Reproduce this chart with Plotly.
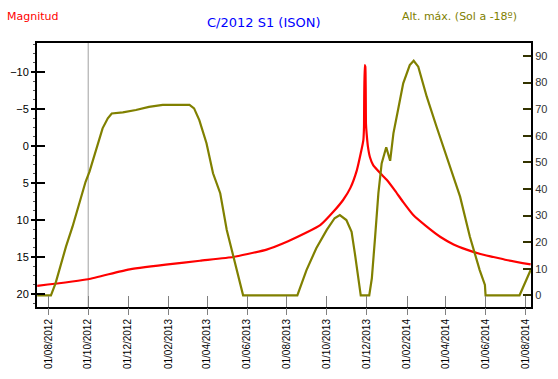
import plotly.graph_objects as go

# ---------------- data ----------------
mag_fechas = [
    "2012-07-15", "2012-10-01", "2012-12-01", "2013-01-31", "2013-03-21",
    "2013-05-11", "2013-06-02", "2013-07-01", "2013-08-02", "2013-08-31",
    "2013-09-21", "2013-10-11", "2013-10-26", "2013-11-06", "2013-11-16",
    "2013-11-22", "2013-11-26", "2013-11-27", "2013-11-28", "2013-11-29",
    "2013-11-30", "2013-12-01", "2013-12-03", "2013-12-06", "2013-12-11",
    "2013-12-22", "2014-01-01", "2014-01-14", "2014-01-26", "2014-02-10",
    "2014-03-03", "2014-03-24", "2014-04-13", "2014-05-03", "2014-05-24",
    "2014-06-13", "2014-07-03", "2014-08-09",
]
magnitud = [
    18.9, 18.0, 16.7, 16.0, 15.5,
    15.0, 14.6, 14.0, 12.9, 11.7,
    10.7, 8.9, 7.3, 5.7, 3.3,
    1.0, -0.8, -2.6, -10.9, -10.7,
    -3.0, -1.7, 0.1, 1.5, 2.6,
    3.7, 4.6, 6.1, 7.6, 9.3,
    10.9, 12.3, 13.3, 14.0, 14.6,
    15.0, 15.4, 16.0,
]

alt_fechas = [
    "2012-07-15", "2012-08-05", "2012-08-12", "2012-08-28", "2012-09-07",
    "2012-09-17", "2012-09-27", "2012-10-03", "2012-10-13", "2012-10-23",
    "2012-10-31", "2012-11-06", "2012-11-23", "2012-12-13", "2013-01-02",
    "2013-01-23", "2013-03-05", "2013-03-12", "2013-03-20", "2013-03-31",
    "2013-04-10", "2013-04-21", "2013-05-01", "2013-05-11", "2013-05-26",
    "2013-08-17", "2013-08-31", "2013-09-15", "2013-10-01", "2013-10-13",
    "2013-10-21", "2013-10-31", "2013-11-08", "2013-11-13", "2013-11-22",
    "2013-12-05", "2013-12-09", "2013-12-14", "2013-12-19", "2013-12-24",
    "2013-12-31", "2014-01-06", "2014-01-11", "2014-01-19", "2014-01-26",
    "2014-02-05", "2014-02-11", "2014-02-18", "2014-03-03", "2014-03-18",
    "2014-04-07", "2014-04-23", "2014-05-08", "2014-05-23", "2014-05-31",
    "2014-06-01", "2014-07-23", "2014-08-09",
]
altitud = [
    0, 0, 4.5, 18.3, 25.8,
    34.6, 42.7, 46.5, 54.6, 62.8,
    66.6, 68.4, 68.8, 69.7, 70.9,
    71.6, 71.6, 70.3, 65.9, 57.2,
    45.9, 38.4, 24.6, 14.5, 0,
    0, 9.5, 17.7, 24.6, 29.0,
    30.2, 28.3, 23.9, 15.8, 0,
    0, 6.4, 22.0, 38.4, 49.6,
    55.7, 50.6, 60.9, 70.9, 79.7,
    86.6, 88.2, 86.0, 74.7, 63.4,
    48.4, 37.1, 22.0, 9.5, 3.9,
    0, 0, 9.5,
]

fecha_marcador = "2012-10-01"
rango_fechas = ["2012-07-14 16:00", "2014-08-09 12:00"]
rango_mag = [21.75, -13.9]
rango_alt = [-4.4, 94.9]

titulo = "C/2012 S1 (ISON)"
etiqueta_izq = "Magnitud"
etiqueta_der = "Alt. máx. (Sol a -18º)"

# ---------------- figure ----------------
ROJO = "#FF0000"
OLIVA = "#808000"
FONT = "Liberation Sans"

fig = go.Figure()
fig.add_trace(go.Scatter(x=alt_fechas, y=altitud, mode="lines",
                         line=dict(color=OLIVA, width=2.2), yaxis="y2",
                         showlegend=False, hoverinfo="skip"))
fig.add_trace(go.Scatter(x=mag_fechas, y=magnitud, mode="lines",
                         line=dict(color=ROJO, width=2.2, shape="spline",
                                   smoothing=0.4), yaxis="y",
                         showlegend=False, hoverinfo="skip"))

fig.add_shape(type="line", xref="x", yref="paper", x0=fecha_marcador,
              x1=fecha_marcador, y0=0, y1=1,
              line=dict(color="#A0A0A0", width=1), layer="below")

xcommon = dict(type="date", range=rango_fechas, tick0="2012-08-01",
               dtick="M2", showgrid=False, zeroline=False, automargin=False)

fig.update_layout(
    width=558, height=379,
    margin=dict(l=37, r=27, t=43, b=72, autoexpand=False),
    paper_bgcolor="white", plot_bgcolor="white",
    font=dict(family=FONT, size=11, color="black"),
    xaxis=dict(**xcommon, ticks="inside", ticklen=11, tickwidth=1,
               tickcolor="#808080", showticklabels=False,
               showline=True, linecolor="black", linewidth=2, mirror=True),
    xaxis2=dict(**xcommon, overlaying="x", side="bottom", anchor="y",
                ticks="outside", ticklen=7, tickwidth=1, tickcolor="#808080",
                tickformat="%d/%m/%Y", tickangle=-90,
                tickfont=dict(family=FONT, size=10, color="black"),
                showline=False),
    yaxis=dict(range=rango_mag, tick0=0, dtick=5, showgrid=False,
               zeroline=False, automargin=False, ticks="outside", ticklen=4,
               tickwidth=1.5, tickcolor="black",
               tickfont=dict(size=11, color="black"),
               showline=True, linecolor="black", linewidth=2,
               minor=dict(ticks="outside", ticklen=2, dtick=1.25,
                          tickcolor="#555555", tickwidth=1)),
    yaxis3=dict(range=rango_mag, tick0=0, dtick=5, overlaying="y",
                side="left", anchor="x", showgrid=False, zeroline=False,
                automargin=False, ticks="inside", ticklen=8, tickwidth=1.5,
                tickcolor="black", showticklabels=False, showline=False),
    yaxis2=dict(range=rango_alt, tick0=0, dtick=10, overlaying="y",
                side="right", anchor="x", showgrid=False, zeroline=False,
                automargin=False, ticks="inside", ticklen=8, tickwidth=1.5,
                tickcolor="#333300",
                tickfont=dict(size=11, color="#333333"),
                showline=True, linecolor="black", linewidth=2),
    annotations=[
        dict(text=titulo, xref="paper", yref="paper", x=0.4595, y=1.076,
             xanchor="center", yanchor="middle", showarrow=False,
             font=dict(family="DejaVu Sans", size=13, color="#0000FF")),
        dict(text=etiqueta_izq, xref="paper", yref="paper", x=-0.0648,
             y=1.102, xanchor="left", yanchor="middle", showarrow=False,
             font=dict(family="DejaVu Sans", size=11, color=ROJO)),
        dict(text=etiqueta_der, xref="paper", yref="paper", x=0.9757,
             y=1.102, xanchor="right", yanchor="middle", showarrow=False,
             font=dict(family="DejaVu Sans", size=11, color=OLIVA)),
    ],
)

# invisible trace so that xaxis2 / yaxis3 are rendered with their ranges
fig.add_trace(go.Scatter(x=[rango_fechas[0]], y=[rango_mag[0]], xaxis="x2",
                         yaxis="y3", mode="markers",
                         marker=dict(opacity=0), showlegend=False,
                         hoverinfo="skip"))

fig.write_html("out.html",
               config={"displayModeBar": False},
               post_script="document.body.style.margin='0px';"
                           "document.body.style.overflow='hidden';")
